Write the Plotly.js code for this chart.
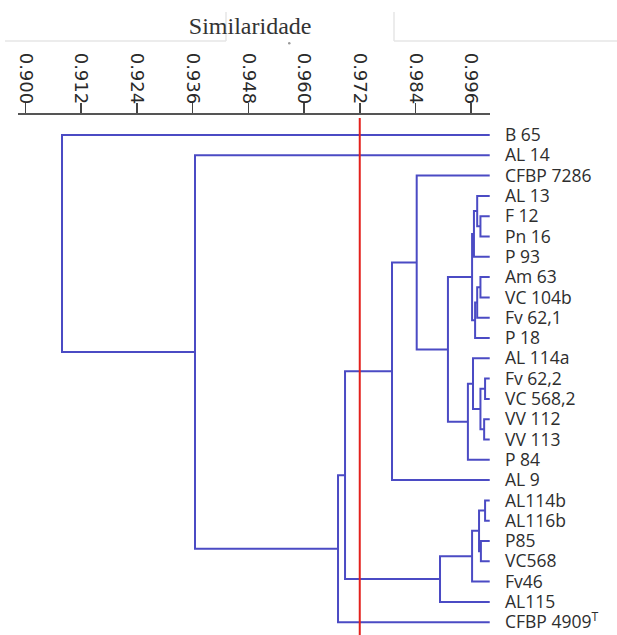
<!DOCTYPE html>
<html>
<head>
<meta charset="utf-8">
<script src="https://cdn.plot.ly/plotly-3.0.1.min.js"></script>
<style>html,body{margin:0;padding:0;background:#fff;}#chart{width:617px;height:635px;}</style>
</head>
<body>
<div id="chart"></div>
<script>
// Leaf labels (top to bottom)
const leaves = ["B 65","AL 14","CFBP 7286","AL 13","F 12","Pn 16","P 93","Am 63","VC 104b","Fv 62,1","P 18",
  "AL 114a","Fv 62,2","VC 568,2","VV 112","VV 113","P 84","AL 9","AL114b","AL116b","P85","VC568","Fv46","AL115",
  "CFBP 4909<sup>T</sup>"];
// Merge table: node ids >= leaves.length are earlier merges (25 + row index)
const mergeLeft   = [4, 3, 26, 7, 28, 29, 27, 12, 14, 32, 11, 35, 31, 2, 38, 18, 20, 40, 42, 43, 39, 45, 1, 0];
const mergeRight  = [5, 25, 6, 8, 9, 10, 30, 13, 15, 33, 34, 16, 36, 37, 17, 19, 21, 41, 22, 23, 44, 24, 46, 47];
const mergeHeight = [0.9980, 0.9973, 0.9966, 0.9980, 0.9973, 0.99685, 0.9962, 0.9990, 0.9988, 0.9980, 0.9964, 0.9953,
  0.9910, 0.98427, 0.97895, 0.9990, 0.9981, 0.9977, 0.9962, 0.98929, 0.96883, 0.96732, 0.93651, 0.90786];
const cutoff = 0.972;
const tickValues = [0.900, 0.912, 0.924, 0.936, 0.948, 0.960, 0.972, 0.984, 0.996];

const n = leaves.length;
const nodeX = [], nodeY = [];
for (let i = 0; i < n; i++) { nodeX.push(1.0); nodeY.push(i); }
const xs = [], ys = [];
for (let k = 0; k < mergeHeight.length; k++) {
  const a = mergeLeft[k], b = mergeRight[k], h = mergeHeight[k];
  xs.push(nodeX[a], h, h, nodeX[b], null);
  ys.push(nodeY[a], nodeY[a], nodeY[b], nodeY[b], null);
  nodeX.push(h); nodeY.push((nodeY[a] + nodeY[b]) / 2);
}

const trace = {
  x: xs, y: ys, type: 'scatter', mode: 'lines',
  line: {color: '#4b4bc4', width: 2}, hoverinfo: 'skip', showlegend: false, connectgaps: false
};

const leafIdx = leaves.map((_, i) => i);

// pixel -> paper helpers for decorative frame
const L = 18, W = 472, T = 115, H = 520;
function px(x) { return (x - L) / W; }
function py(y) { return (T + H - y) / H; }

const layout = {
  width: 617, height: 635,
  margin: {l: 18, r: 127, t: 115, b: 0, pad: 0},
  paper_bgcolor: '#fff', plot_bgcolor: '#fff',
  title: {text: 'Similaridade', font: {family: 'Liberation Serif', size: 24, color: '#333'},
          x: 303.5/617, xref: 'paper', xanchor: 'center', y: 1 - 26/635, yanchor: 'middle'},
  xaxis: {
    side: 'top', range: [0.89838, 1.00006], tickmode: 'array', tickvals: tickValues,
    ticktext: tickValues.map(v => v.toFixed(3)), tickangle: 90,
    ticks: 'outside', ticklen: 10, tickwidth: 1.5, tickcolor: '#444', ticklabelstandoff: -8,
    showline: true, linecolor: '#555', linewidth: 2.5, showgrid: false, zeroline: false,
    tickfont: {family: 'DejaVu Sans', size: 18, color: '#2a2a2a'}, fixedrange: true
  },
  yaxis: {
    side: 'right', range: [24.63, -0.985], tickmode: 'array', tickvals: leafIdx, ticktext: leaves,
    ticks: '', showline: false, showgrid: false, zeroline: false, ticklabelstandoff: 14,
    tickfont: {family: 'Open Sans', size: 17.5, color: '#2e2e2e'}, fixedrange: true
  },
  shapes: [
    {type: 'line', xref: 'x', yref: 'paper', x0: cutoff, x1: cutoff, y0: 0, y1: 0.994,
     line: {color: '#e3211c', width: 2}, layer: 'above'},
    {type: 'line', xref: 'paper', yref: 'paper', x0: px(5), x1: px(226), y0: py(41), y1: py(41), line: {color: '#e6e6e6', width: 1.5}},
    {type: 'line', xref: 'paper', yref: 'paper', x0: px(226), x1: px(226), y0: py(41), y1: py(12), line: {color: '#e6e6e6', width: 1.5}},
    {type: 'line', xref: 'paper', yref: 'paper', x0: px(394), x1: px(394), y0: py(41), y1: py(12), line: {color: '#e6e6e6', width: 1.5}},
    {type: 'line', xref: 'paper', yref: 'paper', x0: px(394), x1: px(617), y0: py(41), y1: py(41), line: {color: '#e6e6e6', width: 1.5}},
    {type: 'circle', xref: 'paper', yref: 'paper', x0: px(288), x1: px(290.5), y0: py(42), y1: py(44.5), fillcolor: '#999', line: {width: 0}}
  ]
};

Plotly.newPlot('chart', [trace], layout, {displayModeBar: false, staticPlot: true});
</script>
</body>
</html>
